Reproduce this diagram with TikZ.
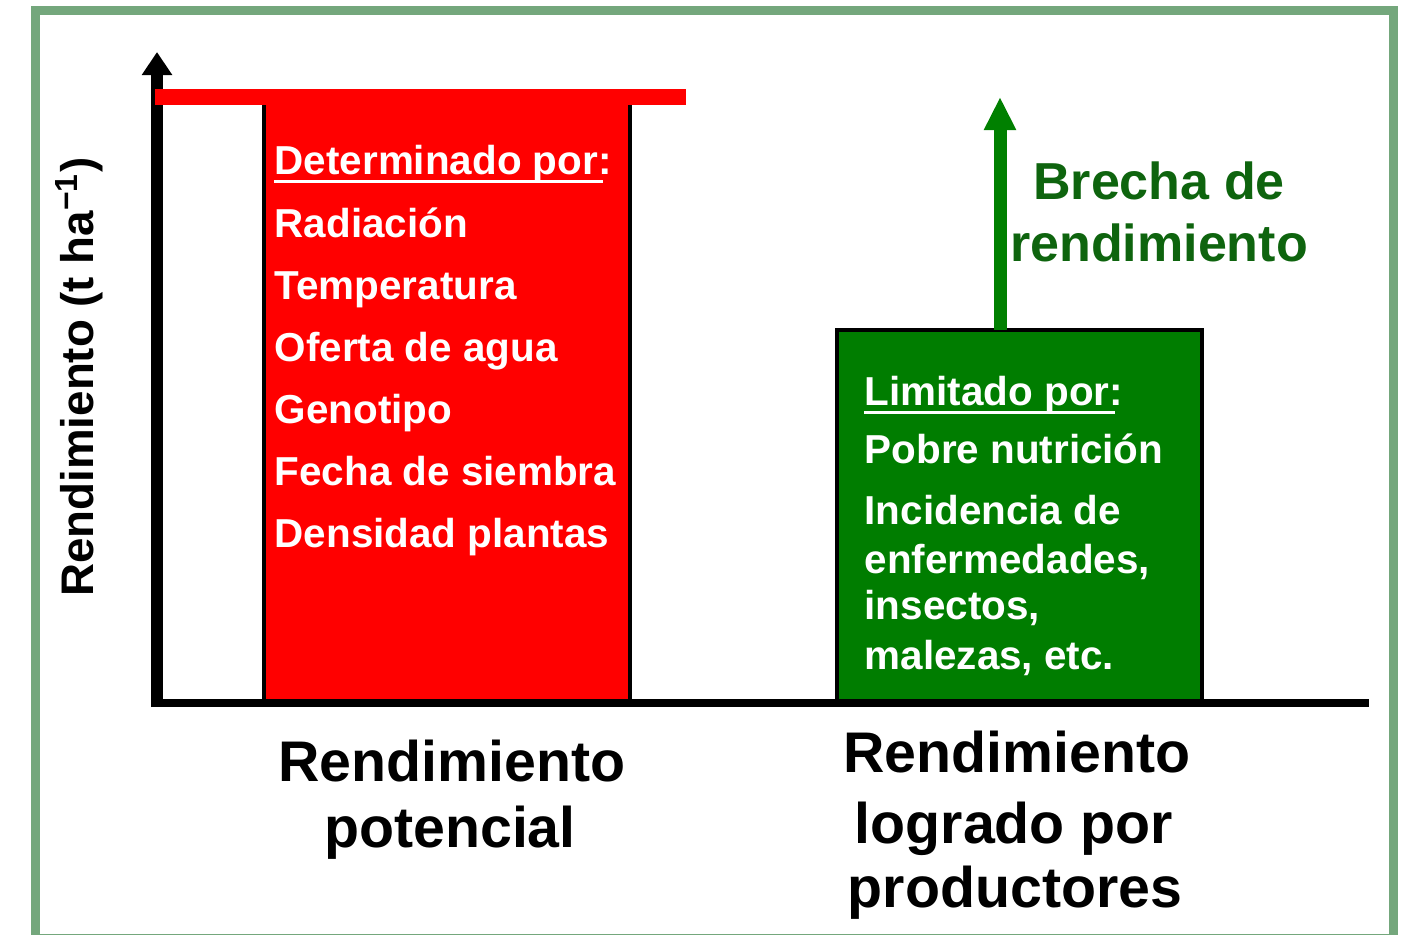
\documentclass[tikz,border=0pt]{standalone}
\usepackage{fontspec}
\setmainfont{Liberation Sans}
\usetikzlibrary{arrows.meta}
\definecolor{framegreen}{RGB}{116,167,124}
\definecolor{potred}{RGB}{255,0,0}
\definecolor{loggreen}{RGB}{0,125,0}
\definecolor{gapgreen}{RGB}{0,128,0}
\definecolor{gaptext}{RGB}{14,100,14}
\tikzset{
  fact/.style={anchor=base west, inner sep=0pt, text=white,
    font=\fontsize{11.5}{13}\selectfont\bfseries},
  factrule/.style={white, line width=0.03cm},
  barlabel/.style={anchor=base, inner sep=0pt,
    font=\fontsize{16.3}{19}\selectfont\bfseries},
  gaplabel/.style={anchor=base, inner sep=0pt, text=gaptext,
    font=\fontsize{14.8}{17}\selectfont\bfseries},
}
\begin{document}
\begin{tikzpicture}
  \useasboundingbox (0,0) rectangle (14.07,9.34);
  \draw[framegreen, line width=0.09cm] (0.355,-0.04) rectangle (13.935,9.24);
  % bars
  \draw[fill=potred, line width=0.04cm] (2.64,2.31) rectangle (6.30,8.37);
  \draw[fill=loggreen, line width=0.04cm] (8.37,2.31) rectangle (12.02,6.04);
  % axes
  \coordinate (origin) at (1.57,2.31);
  \coordinate (ytop) at (1.57,8.82);
  \coordinate (xleft) at (1.51,2.31);
  \coordinate (xend) at (13.69,2.31);
  \draw[line width=0.12cm, -{Triangle[length=0.23cm,width=0.29cm]}] (1.57,2.27) -- (ytop);
  \draw[line width=0.08cm] (xleft) -- (xend);
  \draw[potred, line width=0.16cm] (1.55,8.37) -- (6.86,8.37);
  % gap arrow
  \coordinate (gapbase) at (10.00,6.04);
  \coordinate (gaptop) at (10.00,8.37);
  \draw[gapgreen, line width=0.13cm, -{Triangle[length=0.33cm,width=0.30cm]}] (gapbase) -- (gaptop);
  \node[gaplabel] (gap1) at (11.59,7.35) {Brecha de};
  \node[gaplabel] (gap2) at (11.59,6.73) {rendimiento};
  % y label
  \node[anchor=base, rotate=90, inner sep=0pt, font=\fontsize{13}{15}\selectfont\bfseries]
    (ylab) at (0.93,5.57) {Rendimiento (t ha\textsuperscript{−1})};
  % potential yield factors
  \node[fact] (pot0) at (2.74,7.60) {Determinado por:};
  \draw[factrule] ([yshift=-0.07cm]pot0.base west) -- ++(3.29,0);
  \node[fact] (pot1) at (2.74,6.97) {Radiación};
  \node[fact] (pot2) at (2.74,6.35) {Temperatura};
  \node[fact] (pot3) at (2.74,5.73) {Oferta de agua};
  \node[fact] (pot4) at (2.74,5.11) {Genotipo};
  \node[fact] (pot5) at (2.74,4.49) {Fecha de siembra};
  \node[fact] (pot6) at (2.74,3.87) {Densidad plantas};
  % attained yield limits
  \node[fact] (lim0) at (8.64,5.29) {Limitado por:};
  \draw[factrule] ([yshift=-0.07cm]lim0.base west) -- ++(2.51,0);
  \node[fact] (lim1) at (8.64,4.71) {Pobre nutrición};
  \node[fact] (lim2) at (8.64,4.10) {Incidencia de};
  \node[fact] (lim3) at (8.64,3.61) {enfermedades,};
  \node[fact] (lim4) at (8.64,3.15) {insectos,};
  \node[fact] (lim5) at (8.64,2.65) {malezas, etc.};
  % bar labels
  \node[barlabel] (pota) at (4.52,1.53) {Rendimiento};
  \node[barlabel] (potb) at (4.50,0.87) {potencial};
  \node[barlabel] (loga) at (10.17,1.62) {Rendimiento};
  \node[barlabel] (logb) at (10.14,0.91) {logrado por};
  \node[barlabel] (logc) at (10.15,0.27) {productores};
\end{tikzpicture}
\end{document}
